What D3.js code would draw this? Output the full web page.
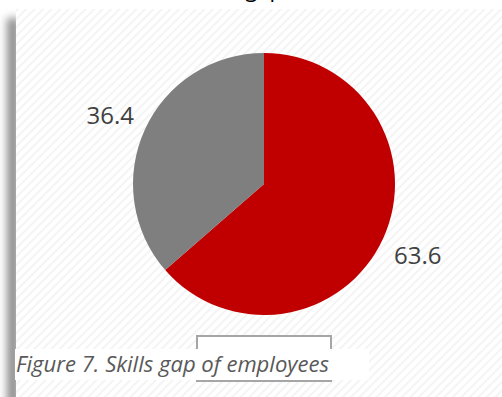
<!DOCTYPE html>
<html>
<head>
<meta charset="utf-8">
<script src="https://cdn.jsdelivr.net/npm/d3@7/dist/d3.min.js"></script>
<style>
  html, body { margin: 0; padding: 0; background: #ffffff; }
  svg { display: block; }
</style>
</head>
<body>
<svg id="chart" width="502" height="397"></svg>
<script>
// Share of employees reporting a skills gap
const categories = ["Skills gap", "No skills gap"];
const values = [63.6, 36.4];
const sliceColors = ["#C00000", "#7F7F7F"];
const chartTitle = "Skills gap";
const caption = "Figure 7. Skills gap of employees";

const W = 502, H = 397;
const svg = d3.select("#chart");
const defs = svg.append("defs");

// light diagonal hatching used as the plot background
const pat = defs.append("pattern")
  .attr("id", "hatch")
  .attr("patternUnits", "userSpaceOnUse")
  .attr("width", 6).attr("height", 6)
  .attr("patternTransform", "rotate(45)");
pat.append("rect").attr("width", 6).attr("height", 6).attr("fill", "#ffffff");
pat.append("line")
  .attr("x1", 1).attr("y1", 0).attr("x2", 1).attr("y2", 6)
  .attr("stroke", "#f0f0f0").attr("stroke-width", 1.4);

// soft drop shadow on the left edge of the chart panel
defs.append("filter").attr("id", "soft")
  .attr("x", "-100%").attr("y", "-10%").attr("width", "300%").attr("height", "120%")
  .append("feGaussianBlur").attr("stdDeviation", 4);

const panel = { x: 16, y: 9, w: W - 16, h: H - 9 };

svg.append("rect")
  .attr("x", panel.x - 9).attr("y", panel.y + 9)
  .attr("width", 12).attr("height", panel.h + 20)
  .attr("fill", "#8c8c8c")
  .attr("filter", "url(#soft)");

svg.append("rect")
  .attr("x", panel.x).attr("y", panel.y)
  .attr("width", panel.w).attr("height", panel.h)
  .attr("fill", "url(#hatch)");

// title sits mostly above the visible area
svg.append("text")
  .attr("x", 283).attr("y", -3)
  .attr("text-anchor", "end")
  .attr("font-family", "'Open Sans', sans-serif")
  .attr("font-size", 22)
  .attr("fill", "#000000")
  .text(chartTitle);

// pie
const cx = 264, cy = 184, r = 131, labelR = 169;
const pie = d3.pie().sort(null).value(d => d.value);
const data = categories.map((c, i) => ({ category: c, value: values[i], color: sliceColors[i] }));
const arcs = pie(data);
const arc = d3.arc().innerRadius(0).outerRadius(r);
const labelArc = d3.arc().innerRadius(labelR).outerRadius(labelR);

const g = svg.append("g").attr("transform", `translate(${cx},${cy})`);
g.selectAll("path.slice")
  .data(arcs)
  .join("path")
  .attr("class", "slice")
  .attr("d", arc)
  .attr("fill", d => d.data.color);

g.selectAll("text.val")
  .data(arcs)
  .join("text")
  .attr("class", "val")
  .attr("transform", d => {
    const [x, y] = labelArc.centroid(d);
    return `translate(${x},${y})`;
  })
  .attr("text-anchor", "middle")
  .attr("dy", "0.42em")
  .attr("font-family", "'Open Sans', sans-serif")
  .attr("font-size", 24)
  .attr("fill", "#404040")
  .text(d => d.data.value.toFixed(1));

// bracket frame behind the caption
svg.append("rect")
  .attr("x", 197).attr("y", 336)
  .attr("width", 134).attr("height", 45)
  .attr("fill", "#ffffff")
  .attr("stroke", "#a6a6a6").attr("stroke-width", 2);

// caption box
svg.append("rect")
  .attr("x", 15).attr("y", 349)
  .attr("width", 354).attr("height", 31)
  .attr("fill", "#ffffff");

const cap = svg.append("text")
  .attr("x", 16).attr("y", 372)
  .attr("font-family", "'Open Sans', sans-serif")
  .attr("font-style", "italic")
  .attr("font-size", 21)
  .attr("fill", "#595959")
  .text(caption);
cap.attr("textLength", 313).attr("lengthAdjust", "spacingAndGlyphs");
</script>
</body>
</html>
